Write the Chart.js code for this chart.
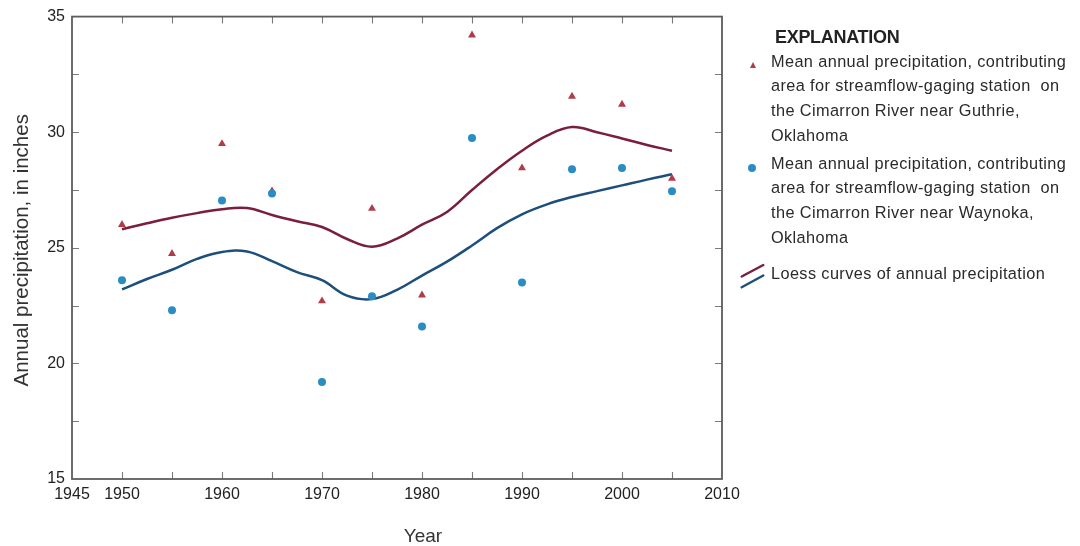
<!DOCTYPE html>
<html>
<head>
<meta charset="utf-8">
<title>Annual precipitation, Cimarron River basin</title>
<script src="https://cdn.jsdelivr.net/npm/chart.js@4/dist/chart.umd.min.js"></script>
<style>
  html, body { margin: 0; padding: 0; background: #fff; }
  #wrap { position: relative; width: 1080px; height: 546px; overflow: hidden; }
  #chart { position: absolute; left: 0; top: 0; }
  .key { position: absolute; font-family: "Liberation Sans", Arial, sans-serif; color: #2a2a2a; white-space: nowrap; }
  .key-title { left: 775px; top: 25px; font-size: 18px; font-weight: bold; line-height: 24.6px; letter-spacing: -0.3px; color: #222; }
  .key-text { left: 771px; font-size: 16.3px; line-height: 24.7px; letter-spacing: 0.4px; }
  .tri { position: absolute; left: 749.5px; top: 62px; width: 0; height: 0;
         border-left: 3.8px solid transparent; border-right: 3.8px solid transparent; border-bottom: 6.5px solid #b03c4a; }
  .dot { position: absolute; left: 747.5px; top: 164px; width: 8px; height: 8px; border-radius: 50%; background: #2a8cc5; }
  .loess-icon { position: absolute; left: 738px; top: 261px; }
</style>
</head>
<body>
<div id="wrap">
  <canvas id="chart" width="1080" height="546"></canvas>

  <div class="key key-title">EXPLANATION</div>
  <div class="tri"></div>
  <div class="key key-text" style="top:48.7px">Mean annual precipitation, contributing<br>area for streamflow-gaging station&nbsp; on<br>the Cimarron River near Guthrie,<br>Oklahoma</div>
  <div class="dot"></div>
  <div class="key key-text" style="top:150.5px">Mean annual precipitation, contributing<br>area for streamflow-gaging station&nbsp; on<br>the Cimarron River near Waynoka,<br>Oklahoma</div>
  <svg class="loess-icon" width="30" height="30" viewBox="0 0 30 30">
    <line x1="3.7" y1="15.5" x2="25.3" y2="4" stroke="#7a1e40" stroke-width="2.4" stroke-linecap="round"/>
    <line x1="3.7" y1="26.3" x2="25.3" y2="14.5" stroke="#1d4f7c" stroke-width="2.4" stroke-linecap="round"/>
  </svg>
  <div class="key key-text" style="top:260.5px">Loess curves of annual precipitation</div>
</div>

<script>
// Mean annual precipitation (inches) at 5-year steps
const years = [1950, 1955, 1960, 1965, 1970, 1975, 1980, 1985, 1990, 1995, 2000, 2005];
const guthrieMean = [26.0, 24.75, 29.5, 27.45, 22.7, 26.7, 22.95, 34.2, 28.45, 31.55, 31.2, 28.0];
const waynokaMean = [23.6, 22.3, 27.05, 27.35, 19.2, 22.9, 21.6, 29.75, 23.5, 28.4, 28.45, 27.45];

// Loess-smoothed curves, sampled every 2.5 years
const loessYears = [1950, 1952.5, 1955, 1957.5, 1960, 1962.5, 1965, 1967.5, 1970, 1972.5, 1975, 1977.5,
                    1980, 1982.5, 1985, 1987.5, 1990, 1992.5, 1995, 1997.5, 2000, 2002.5, 2005];
const guthrieLoess = [25.8, 26.06, 26.3, 26.5, 26.67, 26.72, 26.42, 26.15, 25.9, 25.38, 25.05, 25.4,
                      26.0, 26.55, 27.5, 28.4, 29.2, 29.85, 30.22, 30.0, 29.73, 29.45, 29.2];
const waynokaLoess = [23.2, 23.65, 24.05, 24.52, 24.82, 24.84, 24.42, 23.95, 23.6, 22.93, 22.78, 23.18,
                      23.8, 24.4, 25.1, 25.85, 26.45, 26.88, 27.2, 27.45, 27.7, 27.95, 28.18];

// Axis tick values
const xTickValues = [1945, 1950, 1955, 1960, 1965, 1970, 1975, 1980, 1985, 1990, 1995, 2000, 2005, 2010];
const xTickLabels = ['1945', '1950', '', '1960', '', '1970', '', '1980', '', '1990', '', '2000', '', '2010'];
const yTickValues = [15, 17.5, 20, 22.5, 25, 27.5, 30, 32.5, 35];
const yTickLabels = ['15', '', '20', '', '25', '', '30', '', '35'];

const xMinorTicks = [1950, 1955, 1960, 1965, 1970, 1975, 1980, 1985, 1990, 1995, 2000, 2005];
const yMinorTicks = [17.5, 20, 22.5, 25, 27.5, 30, 32.5];

const pairs = (xs, ys) => xs.map((x, i) => ({ x: x, y: ys[i] }));

const FONT = '"Liberation Sans", Arial, sans-serif';
const AXIS_COLOR = '#5c5c5c';

// Plot frame with short inward tick marks on all four sides, plus axis titles
const frameTicks = {
  id: 'frameTicks',
  beforeDatasetsDraw(chart) {
    const { ctx, chartArea: a, scales: { x, y } } = chart;
    const len = 7;
    ctx.save();
    ctx.strokeStyle = '#7a7a7a';
    ctx.lineWidth = 1.1;
    ctx.beginPath();
    xMinorTicks.forEach(v => {
      const px = Math.round(x.getPixelForValue(v)) + 0.5;
      ctx.moveTo(px, a.bottom); ctx.lineTo(px, a.bottom - len);
      ctx.moveTo(px, a.top); ctx.lineTo(px, a.top + len);
    });
    yMinorTicks.forEach(v => {
      const py = Math.round(y.getPixelForValue(v)) + 0.5;
      ctx.moveTo(a.left, py); ctx.lineTo(a.left + len, py);
      ctx.moveTo(a.right, py); ctx.lineTo(a.right - len, py);
    });
    ctx.stroke();
    ctx.strokeStyle = AXIS_COLOR;
    ctx.lineWidth = 1.8;
    ctx.strokeRect(a.left, a.top, a.right - a.left, a.bottom - a.top);
    ctx.restore();
  },
  afterDraw(chart) {
    const { ctx, chartArea: a } = chart;
    ctx.save();
    ctx.fillStyle = '#333';
    ctx.textAlign = 'center';
    ctx.textBaseline = 'alphabetic';
    // x-axis title
    ctx.font = '19px ' + FONT;
    ctx.fillText('Year', 423, 541.5);
    // y-axis title
    ctx.font = '20.5px ' + FONT;
    ctx.translate(28, (a.top + a.bottom) / 2 + 2.5);
    ctx.rotate(-Math.PI / 2);
    ctx.fillText('Annual precipitation, in inches', 0, 0);
    ctx.restore();
  }
};

new Chart(document.getElementById('chart'), {
  type: 'scatter',
  data: {
    datasets: [
      {
        label: 'Waynoka',
        data: pairs(years, waynokaMean),
        pointStyle: 'circle',
        pointRadius: 4,
        pointBackgroundColor: '#2a8cc5',
        pointBorderWidth: 0,
        showLine: false
      },
      {
        label: 'Guthrie',
        data: pairs(years, guthrieMean),
        pointStyle: 'triangle',
        pointRadius: 4.6,
        pointBackgroundColor: '#b03c4a',
        pointBorderWidth: 0,
        showLine: false
      },
      {
        label: 'Guthrie loess',
        data: pairs(loessYears, guthrieLoess),
        showLine: true,
        borderColor: '#7a1e40',
        borderWidth: 2.5,
        pointRadius: 0,
        tension: 0.4
      },
      {
        label: 'Waynoka loess',
        data: pairs(loessYears, waynokaLoess),
        showLine: true,
        borderColor: '#1d4f7c',
        borderWidth: 2.5,
        pointRadius: 0,
        tension: 0.4
      }
    ]
  },
  options: {
    responsive: false,
    animation: false,
    devicePixelRatio: 1,
    layout: { padding: { left: 0, top: 16, right: 358, bottom: 0 } },
    plugins: { legend: { display: false }, tooltip: { enabled: false } },
    scales: {
      x: {
        type: 'linear',
        min: 1945,
        max: 2010,
        afterFit: s => { s.height = 67; },
        afterBuildTicks: s => { s.ticks = xTickValues.map(v => ({ value: v })); },
        grid: { display: false, drawTicks: false },
        border: { display: false },
        ticks: {
          autoSkip: false,
          maxRotation: 0,
          padding: 6,
          color: '#222',
          font: { family: FONT, size: 16 },
          callback: v => xTickLabels[xTickValues.indexOf(v)] ?? ''
        }
      },
      y: {
        min: 15,
        max: 35,
        afterFit: s => { s.width = 72; },
        afterBuildTicks: s => { s.ticks = yTickValues.map(v => ({ value: v })); },
        grid: { display: false, drawTicks: false },
        border: { display: false },
        ticks: {
          autoSkip: false,
          padding: 7,
          color: '#222',
          font: { family: FONT, size: 16 },
          callback: v => yTickLabels[yTickValues.indexOf(v)] ?? ''
        }
      }
    }
  },
  plugins: [frameTicks]
});
</script>
</body>
</html>
